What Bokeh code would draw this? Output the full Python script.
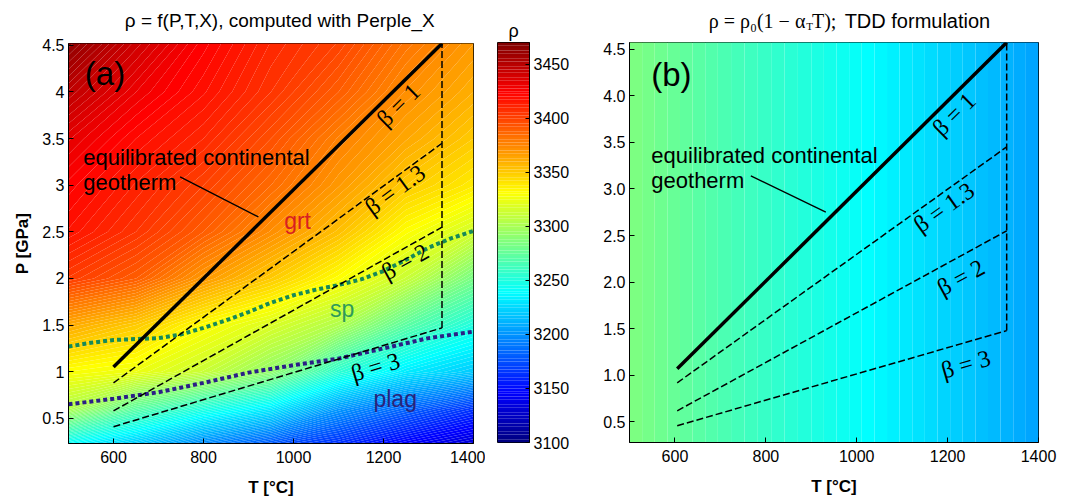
import math
import numpy as np
from bokeh.plotting import figure
from bokeh.models import Range1d, FixedTicker, CustomJSTickFormatter
from bokeh.layouts import row, column
from bokeh.embed import file_html
from bokeh.resources import INLINE
from bokeh.core.properties import value

# ---------------- data ----------------
# panel (a): density field read from the Perple_X map (rows = pressure nodes)
T_nodes_a = [500, 650, 800, 950, 1100, 1250, 1400]
P_nodes_a = [0.2, 0.6, 1.0, 1.5, 2.0, 2.5, 3.0, 3.5, 4.0, 4.55]
rho_a = [
    [3235, 3215, 3192, 3174, 3160, 3142, 3128],
    [3303, 3272, 3250, 3232, 3202, 3183, 3165],
    [3330, 3325, 3312, 3292, 3255, 3232, 3220],
    [3362, 3350, 3331, 3318, 3303, 3272, 3250],
    [3402, 3390, 3368, 3350, 3331, 3312, 3282],
    [3417, 3405, 3390, 3372, 3354, 3331, 3315],
    [3424, 3412, 3400, 3385, 3368, 3350, 3338],
    [3433, 3420, 3410, 3395, 3377, 3363, 3350],
    [3447, 3430, 3418, 3405, 3390, 3372, 3360],
    [3465, 3442, 3424, 3410, 3400, 3382, 3368],
]
# panel (b): TDD density, a function of temperature only
T_nodes_b = [500, 700, 900, 1100, 1300, 1400]
rho_b = [3285, 3267, 3250, 3232, 3214, 3205]
P_nodes_b = [0.25, 4.6]

# geotherms
beta_labels = ["β = 1", "β = 1.3", "β = 2", "β = 3"]
T_start_a = 600
T_start_b = 605
T_end = 1330
P_start_a = [1.05, 0.88, 0.58, 0.41]
P_end_a = [4.52, 3.45, 2.55, 1.47]
P_start_b = [1.07, 0.92, 0.62, 0.46]
P_end_b = [4.57, 3.45, 2.55, 1.48]

# phase boundaries (panel a)
grt_sp_T = [500, 550, 600, 650, 700, 750, 800, 850, 900, 950, 1000, 1050, 1100, 1150, 1200, 1250, 1300, 1350, 1400]
grt_sp_P = [1.27, 1.31, 1.34, 1.35, 1.36, 1.40, 1.47, 1.55, 1.64, 1.74, 1.82, 1.88, 1.93, 1.99, 2.08, 2.20, 2.33, 2.43, 2.51]
sp_plag_T = [500, 600, 700, 800, 900, 1000, 1100, 1200, 1300, 1400]
sp_plag_P = [0.65, 0.71, 0.78, 0.88, 0.99, 1.07, 1.14, 1.25, 1.36, 1.43]

rho_ticks = [3100, 3150, 3200, 3250, 3300, 3350, 3400, 3450]
T_ticks = [600, 800, 1000, 1200, 1400]
P_ticks = [0.5, 1.0, 1.5, 2.0, 2.5, 3.0, 3.5, 4.0, 4.5]

RHO_LO, RHO_HI = 3100, 3470

# ---------------- colour map (jet) ----------------
def jet(f):
    r = min(max(1.5 - abs(4 * f - 3), 0), 1)
    g = min(max(1.5 - abs(4 * f - 2), 0), 1)
    b = min(max(1.5 - abs(4 * f - 1), 0), 1)
    return "#%02x%02x%02x" % (int(r * 255), int(g * 255), int(b * 255))

levels = list(np.arange(RHO_LO, RHO_HI + 0.01, 2.5))
level_colors = [jet(((levels[i] + levels[i + 1]) / 2 - RHO_LO) / (RHO_HI - RHO_LO)) for i in range(len(levels) - 1)]

SANS = "Liberation Sans"
SERIF = "Liberation Serif"
FULL_H = 502
STRIP_H = 36
H = FULL_H - STRIP_H


def style_axes(p, xfmt, yfmt, ylabel=None):
    for ax in (p.xaxis[0], p.yaxis[0]):
        ax.major_tick_in = 5
        ax.major_tick_out = 0
        ax.minor_tick_line_color = None
        ax.axis_line_color = "black"
        ax.major_tick_line_color = "black"
        ax.major_label_text_font = SANS
        ax.major_label_text_font_size = "16px"
        ax.major_label_text_color = "black"
        ax.axis_label_text_font = SANS
        ax.axis_label_text_font_style = "bold"
        ax.axis_label_text_font_size = "17px"
        ax.axis_label_text_color = "black"
    p.xaxis[0].ticker = FixedTicker(ticks=T_ticks)
    p.yaxis[0].ticker = FixedTicker(ticks=P_ticks)
    p.xaxis[0].formatter = CustomJSTickFormatter(code=xfmt)
    p.yaxis[0].formatter = CustomJSTickFormatter(code=yfmt)
    p.xaxis[0].axis_label = "T [°C]"
    p.xaxis[0].major_label_standoff = 7
    p.xaxis[0].axis_label_standoff = 12
    p.yaxis[0].major_label_standoff = 4
    p.yaxis[0].axis_label_standoff = 7
    if ylabel:
        p.yaxis[0].axis_label = ylabel
    p.grid.visible = False
    p.outline_line_color = "black"
    p.outline_line_width = 1


def draw_geotherms(p, T0, Ps, Pe, sx, sy, lab_T, lab_P):
    for i in range(4):
        if i == 0:
            p.line([T0, T_end], [Ps[i], Pe[i]], line_color="black", line_width=3.5)
        else:
            p.line([T0, T_end], [Ps[i], Pe[i]], line_color="black", line_width=1.5, line_dash="7 3")
    p.line([T_end, T_end], [Pe[3], Pe[0]], line_color="black", line_width=1.5, line_dash="7 3")
    angles = [math.atan2((Pe[i] - Ps[i]) * sy, (T_end - T0) * sx) for i in range(4)]
    p.text(x=lab_T, y=lab_P, text=beta_labels, angle=angles,
           text_font=value(SERIF), text_font_size="24px", text_color="black",
           text_align="center", text_baseline="middle")


def txt(p, x, y, s, font, size, color="black", align="left", baseline="middle", style="normal"):
    p.text(x=[x], y=[y], text=[s], text_font=value(font), text_font_size=size,
           text_color=color, text_align=align, text_baseline=baseline, text_font_style=style)


def strip(width):
    s = figure(width=width, height=STRIP_H, x_range=Range1d(0, width), y_range=Range1d(STRIP_H, 0),
               output_backend="svg", toolbar_location=None, x_axis_location=None,
               y_axis_location=None, min_border=0)
    s.outline_line_color = None
    s.grid.visible = False
    return s


# ---------------- title strips ----------------
ps_a = strip(485)
txt(ps_a, 253, 20, "ρ = f(P,T,X), computed with Perple_X", SANS, "19px", align="center")

ps_b = strip(500)
txt(ps_b, 215, 20, "ρ = ρ₀(1 − α", SERIF, "20px", align="right")
txt(ps_b, 216, 25, "T", SERIF, "11px", align="left")
txt(ps_b, 223, 20, "T);", SERIF, "20px", align="left")
txt(ps_b, 263, 20, "TDD formulation", SANS, "20px", align="left")

# ---------------- panel (a) ----------------
xr_a = Range1d(500, 1400)
yr_a = Range1d(0.23, 4.52)
pa = figure(width=485, height=H, x_range=xr_a, y_range=yr_a, output_backend="svg",
            toolbar_location=None, min_border_left=68, min_border_right=12,
            min_border_top=43 - STRIP_H, min_border_bottom=59)
pa.contour(T_nodes_a, P_nodes_a, np.array(rho_a, dtype=float), levels, fill_color=level_colors)
style_axes(pa, "return String(tick)", "return String(tick)", "P [GPa]")

sx_a = 405 / 900
sy_a = 400 / (4.52 - 0.23)
pa.line(grt_sp_T, grt_sp_P, line_color="#168a58", line_width=4, line_dash="4 3")
pa.line(sp_plag_T, sp_plag_P, line_color="#2b1f86", line_width=4, line_dash="4 3")
draw_geotherms(pa, T_start_a, P_start_a, P_end_a, sx_a, sy_a,
               [1233, 1226, 1248, 1182], [3.86, 2.95, 2.18, 1.05])
pa.text(x=[533, 533], y=[3.30, 3.03], text=["equilibrated continental", "geotherm"],
        text_font=value(SANS), text_font_size="22px", text_color="black",
        text_align="left", text_baseline="alphabetic")
pa.line([748, 922], [3.09, 2.66], line_color="black", line_width=1.3)
txt(pa, 581, 4.195, "(a)", SANS, "33px", align="center")
txt(pa, 1009, 2.62, "grt", SANS, "23px", color="#d82020", align="center")
txt(pa, 1108, 1.67, "sp", SANS, "23px", color="#2e9a5a", align="center")
txt(pa, 1226, 0.71, "plag", SANS, "23px", color="#2a237a", align="center")

# ---------------- colour bar (full height, own title) ----------------
pc = figure(width=90, height=FULL_H, x_range=Range1d(0, 1), y_range=Range1d(RHO_LO, RHO_HI),
            output_backend="svg", toolbar_location=None, x_axis_location=None,
            y_axis_location="right", min_border_left=12, min_border_right=46,
            min_border_top=42, min_border_bottom=60, title="ρ")
pc.title.align = "center"
pc.title.text_font = SANS
pc.title.text_font_size = "18px"
pc.title.text_font_style = "normal"
pc.title.text_color = "black"
pc.title.standoff = 4
pc.quad(left=0, right=1, bottom=levels[:-1], top=levels[1:], fill_color=level_colors, line_color=None)
ax = pc.yaxis[0]
ax.ticker = FixedTicker(ticks=rho_ticks)
ax.major_tick_in = 4
ax.major_tick_out = 0
ax.minor_tick_line_color = None
ax.axis_line_color = "black"
ax.major_label_text_font = SANS
ax.major_label_text_font_size = "16px"
ax.major_label_text_color = "black"
ax.major_label_standoff = 4
pc.grid.visible = False
pc.outline_line_color = "black"

# ---------------- panel (b) ----------------
xr_b = Range1d(500, 1400)
yr_b = Range1d(0.28, 4.57)
pb = figure(width=500, height=H, x_range=xr_b, y_range=yr_b, output_backend="svg",
            toolbar_location=None, min_border_left=54, min_border_right=37,
            min_border_top=42 - STRIP_H, min_border_bottom=60)
rho_b_grid = np.array([rho_b for _ in P_nodes_b], dtype=float)
pb.contour(T_nodes_b, P_nodes_b, rho_b_grid, levels, fill_color=level_colors)
style_axes(pb, "return String(tick)", "return tick.toFixed(1)")
sx_b = 409 / 900
sy_b = 400 / (4.57 - 0.28)
draw_geotherms(pb, T_start_b, P_start_b, P_end_b, sx_b, sy_b,
               [1214, 1192, 1229, 1240], [3.80, 2.80, 2.05, 1.12])
pb.text(x=[548, 548], y=[3.36, 3.09], text=["equilibrated continental", "geotherm"],
        text_font=value(SANS), text_font_size="22px", text_color="black",
        text_align="left", text_baseline="alphabetic")
pb.line([767, 932], [3.14, 2.75], line_color="black", line_width=1.3)
txt(pb, 592, 4.23, "(b)", SANS, "33px", align="center")

layout = row(column(ps_a, pa, spacing=0), pc, column(ps_b, pb, spacing=0), spacing=0)
open("out.html", "w").write(file_html(layout, INLINE))
